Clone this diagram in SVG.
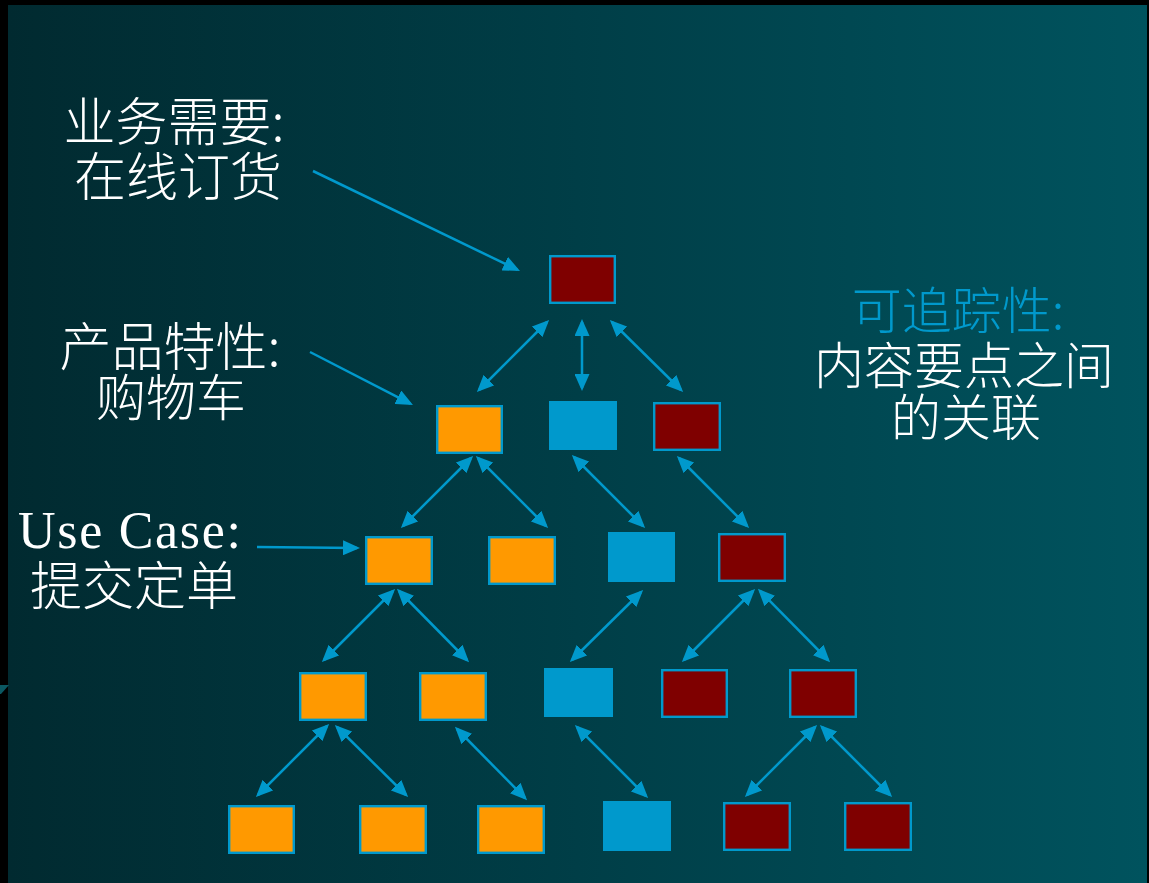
<svg xmlns="http://www.w3.org/2000/svg" width="1149" height="883" viewBox="0 0 1149 883">
<defs>
<linearGradient id="bg" x1="0" y1="0" x2="1" y2="0">
<stop offset="0" stop-color="#012a30"/>
<stop offset="0.5" stop-color="#003e47"/>
<stop offset="1" stop-color="#00535e"/>
</linearGradient>
<marker id="ah" markerUnits="userSpaceOnUse" markerWidth="17" markerHeight="15" viewBox="0 0 17 15" refX="14" refY="7.5" orient="auto-start-reverse">
<path d="M0,0 L17,7.5 L0,15 z" fill="#0099cc"/>
</marker>
</defs>
<style>
.lbl{font-family:"Noto Sans CJK SC","Noto Sans",sans-serif;font-weight:300;fill:#ffffff;text-anchor:middle}
.lat{font-family:"Liberation Serif","Noto Sans CJK SC",serif;fill:#ffffff}
.hl{fill:#0099cc}
.or{fill:#ff9900;stroke:#0099cc;stroke-width:2.4}
.mr{fill:#7f0000;stroke:#0099cc;stroke-width:2.4}
.bl{fill:#0099cc;stroke:#0099cc;stroke-width:1}
.cn line{stroke:#0099cc;stroke-width:2.5;fill:none}
.bi{marker-start:url(#ah);marker-end:url(#ah)}
.one{marker-end:url(#ah)}
</style>
<rect x="0" y="0" width="1149" height="883" fill="#000000"/>
<rect x="8" y="5" width="1139" height="878" fill="url(#bg)"/>
<polygon points="0,685 9,685 1,694 0,694" fill="#0b5862"/>

<g id="labels">
<text class="lbl" x="174" y="141" font-size="52">业务需要:</text>
<text class="lbl" x="178" y="196" font-size="52">在线订货</text>
<text class="lbl" x="170" y="366" font-size="52">产品特性:</text>
<text class="lbl" x="171" y="416" font-size="50">购物车</text>
<text class="lat" x="18" y="548" font-size="52" textLength="223" lengthAdjust="spacing">Use Case:</text>
<text class="lbl" x="134" y="605" font-size="52">提交定单</text>
<text class="lbl hl" x="958" y="329" font-size="50">可追踪性:</text>
<text class="lbl" x="964" y="384" font-size="50">内容要点之间</text>
<text class="lbl" x="966" y="436" font-size="50">的关联</text>
</g>

<g id="connectors" class="cn">
<line class="one" x1="313" y1="171" x2="517.3" y2="269.7"/>
<line class="one" x1="310" y1="352" x2="410.3" y2="403.6"/>
<line class="one" x1="257" y1="547" x2="357" y2="548"/>
<line class="bi" x1="547" y1="322" x2="479" y2="390"/>
<line class="bi" x1="582" y1="322" x2="582" y2="388"/>
<line class="bi" x1="612" y1="322" x2="681" y2="390"/>
<line class="bi" x1="471" y1="458" x2="403" y2="526"/>
<line class="bi" x1="478" y1="458" x2="546" y2="526"/>
<line class="bi" x1="574" y1="457" x2="643" y2="526"/>
<line class="bi" x1="679" y1="458" x2="747" y2="526"/>
<line class="bi" x1="393" y1="591" x2="324" y2="660"/>
<line class="bi" x1="399" y1="591" x2="467" y2="660"/>
<line class="bi" x1="641" y1="592" x2="572" y2="660"/>
<line class="bi" x1="753" y1="591" x2="684" y2="660"/>
<line class="bi" x1="760" y1="591" x2="828" y2="660"/>
<line class="bi" x1="327" y1="726" x2="258" y2="795"/>
<line class="bi" x1="337" y1="727" x2="406" y2="795"/>
<line class="bi" x1="457" y1="729" x2="525" y2="798"/>
<line class="bi" x1="577" y1="727" x2="646" y2="796"/>
<line class="bi" x1="815" y1="727" x2="747" y2="795"/>
<line class="bi" x1="822" y1="727" x2="890" y2="795"/>
</g>

<g id="n0"><rect class="mr" x="550.2" y="256.2" width="64.6" height="46.6"/></g>
<g id="n1a"><rect class="or" x="437.2" y="406.2" width="64.6" height="46.6"/></g>
<g id="n1b"><rect class="bl" x="549.5" y="401.5" width="67" height="48"/></g>
<g id="n1c"><rect class="mr" x="654.2" y="403.2" width="65.6" height="46.6"/></g>
<g id="n2a"><rect class="or" x="366.2" y="537.2" width="65.6" height="46.6"/></g>
<g id="n2b"><rect class="or" x="489.2" y="537.2" width="65.6" height="46.6"/></g>
<g id="n2c"><rect class="bl" x="608.5" y="532.5" width="66" height="49"/></g>
<g id="n2d"><rect class="mr" x="719.2" y="534.2" width="65.6" height="46.6"/></g>
<g id="n3a"><rect class="or" x="300.2" y="673.2" width="65.6" height="46.6"/></g>
<g id="n3b"><rect class="or" x="420.2" y="673.2" width="65.6" height="46.6"/></g>
<g id="n3c"><rect class="bl" x="544.5" y="668.5" width="68" height="48"/></g>
<g id="n3d"><rect class="mr" x="662.2" y="670.2" width="64.6" height="46.6"/></g>
<g id="n3e"><rect class="mr" x="790.2" y="670.2" width="65.6" height="46.6"/></g>
<g id="n4a"><rect class="or" x="229.2" y="806.2" width="64.6" height="46.6"/></g>
<g id="n4b"><rect class="or" x="360.2" y="806.2" width="65.6" height="46.6"/></g>
<g id="n4c"><rect class="or" x="478.2" y="806.2" width="65.6" height="46.6"/></g>
<g id="n4d"><rect class="bl" x="603.5" y="801.5" width="67" height="49"/></g>
<g id="n4e"><rect class="mr" x="724.2" y="803.2" width="65.6" height="46.6"/></g>
<g id="n4f"><rect class="mr" x="845.2" y="803.2" width="65.6" height="46.6"/></g>
</svg>
